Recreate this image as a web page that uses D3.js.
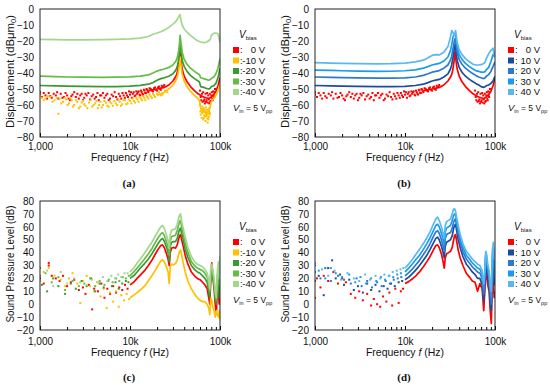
<!DOCTYPE html>
<html><head><meta charset="utf-8">
<script src="https://cdn.jsdelivr.net/npm/d3@7"></script>
<style>body{margin:0;background:#fff}</style>
</head><body>
<svg id="chart" width="550" height="391"></svg>
<script>
// ---------------- DATA ----------------
const X_MAJOR = [1000, 10000, 100000];
const X_LABELS = ["1,000", "10k", "100k"];
const X_MINOR = [2000,3000,4000,5000,6000,7000,8000,9000,20000,30000,40000,50000,60000,70000,80000,90000];
const Y_TICKS_D = [0,-10,-20,-30,-40,-50,-60,-70,-80];
const Y_TICKS_S = [80,70,60,50,40,30,20,10,0,-10,-20];
const LEG_A = ["0 V","-10 V","-20 V","-30 V","-40 V"];
const LEG_B = ["0 V","10 V","20 V","30 V","40 V"];
const COL_A = ["#ff0000","#ffc000","#3a9a32","#66bb44","#a2d78c"];
const COL_B = ["#ff0000","#1b4d9e","#2e78ce","#1a9bee","#58b9f2"];

// displacement frequency grid (Hz)
const FREQ_D = [1000,1500,2000,3000,5000,7000,10000,13000,16000,18000,20000,22000,24000,27000,30000,32000,33000,34000,35000,35500,36000,36500,37000,38000,40000,43000,47000,52000,57000,59000,61000,66000,70000,75000,78000,80000,85000,90000,95000,100000];
const N = null;
const A_0   = [N,N,N,N,N,N,N,N,-51,-50.5,-50,-49.5,-49,-47.5,-45,-42.5,-41,-38,-33,-29.5,-26.5,-30,-33,-37.5,-42,-45.5,-48.5,-51,-53,-53.5,-54,-55,-55.5,-56,-55.5,-55,-53.5,-51.5,-48,-43];
const A_M10 = [N,N,N,N,N,N,N,N,N,N,-54,-53,-52,-50,-47.5,-45,-43.5,-41,-37,-33,-30,-33,-36,-40.5,-45,-48.5,-51.5,-54,-56,-57,-62,-64,-65,-64,-61,-58,-56,-54,-51,-47];
const A_M20 = [-47.8,-48,-48.2,-48.3,-48.5,-48.5,-48.2,-47.7,-47,-46,-44.5,-43.5,-43,-42,-40.5,-38.5,-37,-34.5,-30,-26,-21,-24,-27,-32,-36,-39,-41.5,-43.5,-45,-45.5,-48.5,-49,-49.5,-50,-49.5,-48.5,-48,-46.5,-43,-37];
const A_M30 = [-42,-42.3,-42.5,-42.6,-42.7,-42.6,-42.4,-42,-41.2,-40,-38.8,-38,-37.5,-36.5,-35,-33,-31.5,-29,-25,-21,-16.5,-19,-22,-27,-31.5,-34.5,-37,-39,-40.5,-41,-43,-43.5,-44,-44.5,-44,-43.5,-42.5,-40.5,-37,-31];
const A_M40 = [-19,-19.2,-19.3,-19.3,-19.2,-19,-18.7,-18.2,-17.2,-15.8,-15,-14.2,-13.2,-11.5,-9.5,-8,-7,-5.8,-4.5,-4,-3.5,-5.5,-7.5,-10,-12.5,-14.5,-16.5,-18.5,-20,-20.3,-20.6,-21,-20.8,-19.8,-19,-16.5,-15.2,-15,-15.5,-21];
const B_10 = [-47.8,-48,-48.2,-48.4,-48.5,-48.5,-48.3,-47.8,-47,-46,-45,-44.5,-44,-42.5,-40.5,-37.5,-35,-31,-26,-23,-22,-24,-27,-32,-36.5,-39.5,-42,-44,-45.5,-46,-46.5,-47.5,-48.5,-49,-48.5,-48,-47.5,-46.5,-45,-42];
const B_20 = [-42.5,-42.7,-42.9,-43,-43.2,-43.2,-43,-42.5,-41.5,-40.5,-39.5,-39,-38.5,-37,-35,-32,-29.5,-25.5,-21.5,-19.5,-18.5,-19.5,-22,-27,-31.5,-34.5,-37,-39,-40.5,-41,-41.5,-42.5,-43,-43.5,-43,-42,-41,-39,-36,-33];
const B_30 = [-38.2,-38.4,-38.6,-38.8,-39,-38.9,-38.6,-38,-37,-36,-35,-34.5,-34,-32.5,-30,-26,-22.5,-18,-16,-16.5,-15.5,-16,-19,-24,-28.5,-31.5,-34,-36,-37.5,-38,-38.5,-39,-39.5,-39.5,-39,-38,-36.5,-33,-28.5,-30];
const B_40 = [-33.5,-33.8,-34,-34.2,-34.3,-34.2,-33.8,-33,-32,-30.5,-29,-28.5,-28.7,-27,-23.5,-17.5,-13.5,-14.5,-16.5,-16,-14.5,-13.5,-16,-21,-25.5,-28.5,-31,-33,-34.5,-34.8,-35,-35,-34.8,-34,-33,-31,-28,-26,-24.5,-30];

// scattered (noisy) points of displacement, [Hz, dB]
const A_0_PTS = [[1000,-52],[1000,-53.5],[1050,-55],[1100,-52.5],[1150,-54],[1200,-56],[1250,-52.5],[1300,-54.5],[1350,-55.5],[1420,-53],[1500,-54],[1550,-52],[1600,-56],[1700,-53],[1780,-55.5],[1850,-55],[1920,-52.5],[2000,-54],[2080,-56],[2150,-57],[2230,-54.5],[2300,-53.5],[2400,-52],[2500,-55],[2600,-53],[2700,-56],[2800,-54],[2900,-53],[3000,-57],[3100,-55.5],[3200,-53],[3300,-54],[3450,-52.5],[3600,-56.5],[3750,-54.5],[3900,-53.5],[4050,-56],[4200,-55],[4350,-52.5],[4500,-57],[4650,-54],[4800,-54],[5000,-52.5],[5200,-55.5],[5400,-54],[5600,-53],[5800,-57],[6000,-56],[6250,-53.5],[6500,-54.5],[6750,-52],[7000,-55],[7250,-56.5],[7500,-53],[7750,-54.5],[8000,-56],[8250,-52.5],[8500,-54],[8750,-55.5],[9000,-52.5],[9250,-54],[9500,-55],[9750,-51.5],[10000,-53.5],[10250,-52],[10500,-55.5],[10750,-53],[11000,-52],[11250,-54.5],[11500,-54],[11750,-51.5],[12000,-53],[12250,-52],[12500,-51.5],[12750,-53.5],[13000,-54],[13250,-51],[13500,-52],[13750,-53],[14000,-53.5],[14250,-50.5],[14500,-51],[14750,-52.5],[15000,-52.5],[15250,-50],[15500,-50.5],[15750,-51.5],[16000,-52],[16500,-49.5],[17000,-50],[17500,-51],[18000,-51.5],[18500,-49.5],[19000,-49],[19500,-50.5],[20000,-51],[20500,-49],[21000,-48.5],[21500,-50],[22000,-50.5],[22500,-48],[23000,-49],[23500,-48.5],[24000,-47.5],[60000,-51],[61000,-55],[62000,-57],[63000,-53],[64000,-58],[65000,-52],[66000,-57.5],[67000,-56.5],[68000,-59],[69000,-53],[70000,-58],[71000,-57],[72000,-52.5],[73000,-58.5],[74000,-54],[75000,-56.5],[76000,-59],[77000,-53],[78000,-58],[79000,-57.5],[80000,-54],[81000,-52],[82000,-56],[83000,-57],[84000,-51.5],[85000,-54],[86000,-55],[87000,-52],[88000,-50]];
const A_M10_PTS = [[1000,-54],[1050,-55.5],[1100,-57],[1150,-56],[1220,-54.5],[1300,-55],[1380,-58],[1450,-57],[1530,-55.5],[1600,-65.5],[1650,-56],[1720,-59],[1800,-58],[1880,-55.5],[1950,-56.5],[2020,-60],[2100,-59],[2180,-56],[2250,-57],[2320,-61],[2400,-60],[2500,-57],[2600,-58],[2700,-62],[2800,-61],[2900,-58.5],[3000,-57.5],[3100,-59.5],[3200,-60.5],[3350,-62],[3500,-58.5],[3650,-57],[3800,-61],[3950,-60],[4100,-59],[4250,-57.5],[4400,-62],[4550,-60],[4700,-58],[4850,-61.5],[5000,-60],[5200,-57.5],[5400,-58.5],[5600,-60.5],[5800,-61],[6000,-58],[6200,-59],[6450,-60.5],[6700,-57.5],[6950,-59],[7200,-60],[7450,-57],[7700,-58],[7950,-60.5],[8200,-59.5],[8500,-57],[8800,-57],[9100,-59.5],[9400,-59],[9700,-56.5],[10000,-57.5],[10350,-59],[10700,-56],[11050,-57.5],[11400,-58.5],[11750,-55.5],[12100,-56.5],[12450,-58],[12800,-55],[13200,-56],[13600,-57],[14000,-54.5],[14400,-55.5],[14800,-57],[15200,-54],[15600,-55],[16000,-56],[16500,-53.5],[17000,-54.5],[17500,-55.5],[18000,-53],[18500,-54],[19000,-55],[20000,-53],[21000,-52],[22000,-54],[23000,-53.5],[24500,-51],[26000,-52],[60000,-60],[60500,-64],[61000,-66],[62000,-63],[62500,-68],[63000,-64.5],[63500,-61],[64000,-65],[64500,-62.5],[65000,-69],[65500,-64],[66000,-62],[66500,-68],[67000,-66.5],[67500,-63],[68000,-64],[68500,-67],[69000,-70],[69500,-65],[70000,-61.5],[70500,-66],[71000,-67],[71500,-63],[72000,-64.5],[72500,-68.5],[73000,-71],[73500,-65.5],[74000,-63],[74500,-69],[75000,-67.5],[75500,-64],[76000,-62],[76500,-66],[77000,-65]];

// sound pressure frequency grid (Hz)
const FREQ_S = [10000,11000,12000,13000,14500,16000,17500,19000,20500,22000,23000,24000,25500,26500,27300,28000,29000,30500,32000,33500,34500,35500,36500,37500,39000,41000,44000,48000,52000,56000,60000,64000,68000,72000,75000,77000,79000,81000,83000,86000,88500,91000,93500,96000,98000,100000];
const C_0   = [15,17,20,22.5,26,30,34,38.5,42.5,45.5,46,44,39,35,30,40,43.5,44,43.5,46,50,53,54,50,45,38,31,25,22,20,19,17,15,12,5,0,20,32,22,12,0,-8,14,10,0,8];
const C_M10 = [5,7,9,11,14,18,22,26,30,33.5,34.5,33,28.5,25,16,29,31,30.5,31.5,34,38,41,42,38,32,25,18,12,8,5,3,2,2,0,-3,-8,5,3,-2,-5,-10,-5,-8,-10,-5,-12];
const C_M20 = [20,22,25,28,31.5,35,39,43,47,50,51,49,44,40,33,45,48,48.5,48.5,51,55,58,59,55,50,43,36,30,27,25,24,22,20,17,10,5,22,30,22,15,5,0,18,20,5,20];
const C_M30 = [22,25,28,31,35,39,43,47.5,51.5,54.5,55.5,53.5,48,44,38,49,52.5,53,53.5,57,61,64,65,60,55,48,40,33,30,28,27,26,24,21,15,10,25,29,25,18,8,3,22,28,15,32];
const C_M40 = [25,28,32,35,39.5,44,48,52.5,56.5,60,61,59,53.5,49,43,54,57.5,58,58.5,62,66,69,70,64,59,52,44,37,33,31,30,29,27,24,18,12,28,31,27,20,10,5,25,33,20,37];
const D_0   = [16,17.5,19.5,21.5,25,29,33,37,41.5,45.5,46,44,38.5,33,28,36,39,40,41,44,49,53,54,49,42,36,30,24,21,18,17,10,16,12,-5,10,33,20,15,10,-5,-15,20,15,5,10];
const D_10  = [19,21,23.5,26,30,34,38,42.5,47,51,52,50,44.5,40,36,45,48,49,50,53,58,61,62,57,50,44,37,31,28,25,23,20,20,15,2,15,36,28,20,15,2,-5,30,33,15,20];
const D_20  = [22,24.5,27,30,34,38.5,42.5,47,52,56,57,55,49.5,45,41,51,54,55,55.5,59,63,65.5,66,61,55,48,41,35,32,29,27,25,24,20,8,20,38,32,25,20,8,0,34,38,22,28];
const D_30  = [25,28,31,34,38,42.5,47,51.5,56.5,61,62,60,54.5,50,46,56,59,60,61,65,68.5,70,69,64,58,51,44,38,35,32,30,28,27,23,12,22,40,35,28,23,12,5,38,43,28,35];
const D_40  = [28,31,34.5,38,42.5,47,51.5,56,61.5,66,67.5,65,59.5,55,51,61,64,65,66,70,73.5,74,72,67,61,54,47,41,38,35,33,31,30,26,16,25,41,38,31,26,15,10,42,48,35,42];

const C_0_PTS   = [[1000,20],[1000,18],[1100,16],[1250,32],[1250,30],[1350,22],[1500,20],[1650,18],[1800,22],[2000,14],[2200,17],[2400,19],[2700,11],[3000,13],[3200,8],[3500,15],[3800,-4],[4000,12],[4400,10],[4800,16],[5200,5],[5600,12],[6000,8],[6500,14],[7000,9],[7600,13],[8200,11],[8800,15],[9400,12]];
const C_M10_PTS = [[1000,18],[1100,25],[1250,28],[1450,22],[1700,19],[1900,14],[2100,20],[2300,24],[2600,16],[2800,1],[3000,18],[3300,22],[3600,14],[4000,10],[4300,17],[4700,6],[5100,12],[5500,-3],[6000,9],[6500,2],[7000,10],[7500,-2],[8000,7],[8600,3],[9200,8],[9800,4]];
const C_M20_PTS = [[1000,28],[1050,15],[1200,10],[1400,20],[1600,14],[1900,8],[2200,16],[2500,12],[2900,18],[3300,14],[3700,20],[4100,10],[4600,16],[5100,13],[5700,18],[6300,14],[6900,17],[7500,12],[8200,16],[9000,18],[9600,17]];
const C_M30_PTS = [[1000,22],[1150,24],[1350,17],[1600,21],[1900,11],[2300,18],[2700,14],[3100,16],[3600,20],[4100,14],[4600,18],[5200,15],[5800,19],[6400,17],[7000,20],[7600,18],[8300,21],[9000,20],[9700,22]];
const C_M40_PTS = [[1000,18],[1200,26],[1400,14],[1700,25],[2000,16],[2400,20],[2800,17],[3300,15],[3800,19],[4400,17],[5000,21],[5600,18],[6200,22],[6800,20],[7400,23],[8000,21],[8700,24],[9400,24]];
const D_0_PTS   = [[1000,5],[1050,20],[1150,13],[1250,22],[1400,18],[1600,25],[1800,16],[2000,20],[2200,17],[2500,8],[2800,5],[3100,10],[3400,3],[3800,8],[4200,-1],[4500,4],[4900,0],[5300,-2],[5700,6],[6200,2],[6700,9],[7200,-1],[7800,12],[8500,1],[9000,10],[9500,12]];
const D_10_PTS  = [[1000,18],[1100,22],[1250,7],[1400,28],[1550,34],[1700,20],[1900,23],[2100,15],[2400,19],[2700,11],[3000,14],[3400,9],[3800,16],[4200,11],[4700,15],[5200,10],[5800,14],[6400,12],[7000,16],[7700,14],[8500,17],[9300,18]];
const D_20_PTS  = [[1000,25],[1150,20],[1300,28],[1500,18],[1800,22],[2100,19],[2500,16],[2900,20],[3300,14],[3800,18],[4300,13],[4900,17],[5500,14],[6100,18],[6800,16],[7500,19],[8300,20],[9100,21]];
const D_30_PTS  = [[1000,30],[1100,26],[1300,20],[1500,28],[1700,24],[2000,21],[2400,23],[2800,17],[3200,21],[3700,16],[4200,20],[4800,18],[5400,21],[6000,19],[6700,22],[7400,21],[8200,23],[9000,24]];
const D_40_PTS  = [[1000,32],[1200,27],[1400,22],[1650,26],[1950,19],[2300,24],[2700,20],[3100,18],[3600,23],[4100,19],[4700,22],[5300,20],[5900,23],[6600,22],[7300,25],[8100,26],[8900,27],[9600,28]];

// ---------------- DRAWING ----------------
const FONT = "'Liberation Sans', Arial, sans-serif";
const svg = d3.select("#chart");

const panels = [
  {key:"a", x0:40, x1:220, yT:9, yB:137, yDom:[-80,0], yTicks:Y_TICKS_D, freq:FREQ_D, pad:6, tY:161,
   vals:[A_0,A_M10,A_M20,A_M30,A_M40], pts:[A_0_PTS,A_M10_PTS,null,null,null], cols:COL_A, leg:LEG_A,
   title:"disp", tcy:71.5, tlen:113, lab:"(a)", labY:187},
  {key:"b", x0:315, x1:495, yT:9, yB:137, yDom:[-80,0], yTicks:Y_TICKS_D, freq:FREQ_D, pad:6, tY:161,
   vals:[A_0,B_10,B_20,B_30,B_40], pts:[A_0_PTS,null,null,null,null], cols:COL_B, leg:LEG_B,
   title:"disp", tcy:71.5, tlen:113, lab:"(b)", labY:187},
  {key:"c", x0:40, x1:220, yT:201, yB:330, yDom:[-20,80], yTicks:Y_TICKS_S, freq:FREQ_S, pad:8, tY:356,
   vals:[C_0,C_M10,C_M20,C_M30,C_M40], pts:[C_0_PTS,C_M10_PTS,C_M20_PTS,C_M30_PTS,C_M40_PTS], cols:COL_A, leg:LEG_A,
   title:"spl", tcy:264, tlen:117, lab:"(c)", labY:381},
  {key:"d", x0:315, x1:495, yT:201, yB:330, yDom:[-20,80], yTicks:Y_TICKS_S, freq:FREQ_S, pad:8, tY:356,
   vals:[D_0,D_10,D_20,D_30,D_40], pts:[D_0_PTS,D_10_PTS,D_20_PTS,D_30_PTS,D_40_PTS], cols:COL_B, leg:LEG_B,
   title:"spl", tcy:264, tlen:117, lab:"(d)", labY:381}
];

panels.forEach(p => {
  const x = d3.scaleLog().domain([1000,100000]).range([p.x0, p.x1]);
  const y = d3.scaleLinear().domain(p.yDom).range([p.yB, p.yT]);
  const g = svg.append("g");
  const cid = "clip-" + p.key;
  svg.append("clipPath").attr("id", cid).append("rect")
    .attr("x", p.x0).attr("y", p.yT).attr("width", p.x1 - p.x0).attr("height", p.yB - p.yT);

  // y axis labels
  g.append("g").attr("transform", `translate(${p.x0},0)`)
    .call(d3.axisLeft(y).tickValues(p.yTicks).tickSize(0).tickPadding(6))
    .call(a => a.select(".domain").remove())
    .attr("font-family", FONT).attr("font-size", 10)
    .selectAll("text").attr("fill", "#111");

  // x axis labels + major ticks (inside)
  g.append("g").attr("transform", `translate(0,${p.yB})`)
    .call(d3.axisBottom(x).tickValues(X_MAJOR).tickFormat((d,i) => X_LABELS[i]).tickSizeInner(-4).tickSizeOuter(0).tickPadding(p.pad))
    .call(a => a.select(".domain").remove())
    .attr("font-family", FONT).attr("font-size", 10)
    .selectAll("text").attr("fill", "#111");
  // minor ticks (inside)
  g.append("g").attr("transform", `translate(0,${p.yB})`)
    .call(d3.axisBottom(x).tickValues(X_MINOR).tickFormat("").tickSizeInner(-3).tickSizeOuter(0))
    .call(a => a.select(".domain").remove());

  // data
  const dg = g.append("g").attr("clip-path", `url(#${cid})`);
  const line = d3.line().defined(d => d[1] != null).x(d => x(d[0])).y(d => y(d[1]));
  p.vals.forEach((vals, si) => {
    const col = p.cols[si];
    if (p.pts[si]) {
      dg.append("g").selectAll("rect").data(p.pts[si]).join("rect")
        .attr("x", d => x(d[0]) - 1).attr("y", d => y(d[1]) - 1)
        .attr("width", 2).attr("height", 2).attr("fill", col);
    }
    dg.append("path").datum(p.freq.map((f, i) => [f, vals[i]]))
      .attr("d", line).attr("fill", "none").attr("stroke", col)
      .attr("stroke-width", 1.7).attr("stroke-linejoin", "round");
  });

  // frame
  g.append("rect").attr("x", p.x0).attr("y", p.yT).attr("width", p.x1 - p.x0).attr("height", p.yB - p.yT)
    .attr("fill", "none").attr("stroke", "#222").attr("stroke-width", 1);

  // y title
  const tt = g.append("text").attr("transform", `translate(${p.x0 - 26.5},${p.tcy}) rotate(-90)`)
    .attr("text-anchor", "middle").attr("font-family", FONT).attr("font-size", 10.5).attr("fill", "#111")
    .attr("textLength", p.tlen).attr("lengthAdjust", "spacingAndGlyphs");
  if (p.title === "disp") {
    tt.append("tspan").text("Displacement (dB\u03bcm");
    tt.append("tspan").attr("font-size", 7).attr("dy", 2).text("0");
    tt.append("tspan").attr("dy", -2).text(")");
  } else {
    tt.text("Sound Pressure Level (dB)");
  }

  // x title
  const xt = g.append("text").attr("x", (p.x0 + p.x1) / 2).attr("y", p.tY)
    .attr("text-anchor", "middle").attr("font-family", FONT).attr("font-size", 10.5).attr("fill", "#111");
  xt.append("tspan").text("Frequency ");
  xt.append("tspan").attr("font-style", "italic").text("f");
  xt.append("tspan").text(" (Hz)");

  // panel label
  g.append("text").attr("x", (p.x0 + p.x1) / 2 - 1).attr("y", p.labY).attr("text-anchor", "middle")
    .attr("font-family", "'Liberation Serif', 'Times New Roman', serif").attr("font-weight", "bold")
    .attr("font-size", 11).attr("fill", "#111").text(p.lab);

  // legend
  const lx = p.x1 + 13;
  const ly = p.yT + 41;
  const lg = g.append("g").attr("font-family", FONT).attr("font-size", 9.5).attr("fill", "#111");
  const vb = lg.append("text").attr("x", lx + 6).attr("y", ly - 12);
  vb.append("tspan").attr("font-style", "italic").attr("font-size", 10).text("V");
  vb.append("tspan").attr("font-size", 6).attr("dy", 2).text("bias");
  p.leg.forEach((t, i) => {
    const cy = ly + i * 10.5;
    lg.append("rect").attr("x", lx).attr("y", cy - 3).attr("width", 6).attr("height", 6).attr("fill", p.cols[i]);
    lg.append("text").attr("x", lx + 7).attr("y", cy + 3.3).text(":");
    lg.append("text").attr("x", lx + 32).attr("y", cy + 3.3).attr("text-anchor", "end").text(t);
  });
  const vin = lg.append("text").attr("x", lx).attr("y", ly + 61).attr("font-size", 8.5);
  vin.append("tspan").attr("font-style", "italic").attr("font-size", 9.5).text("V");
  vin.append("tspan").attr("font-size", 5.5).attr("dy", 2).text("in");
  vin.append("tspan").attr("dy", -2).text(" = 5 V");
  vin.append("tspan").attr("font-size", 5.5).attr("dy", 2).text("pp");
});
</script>
</body></html>
